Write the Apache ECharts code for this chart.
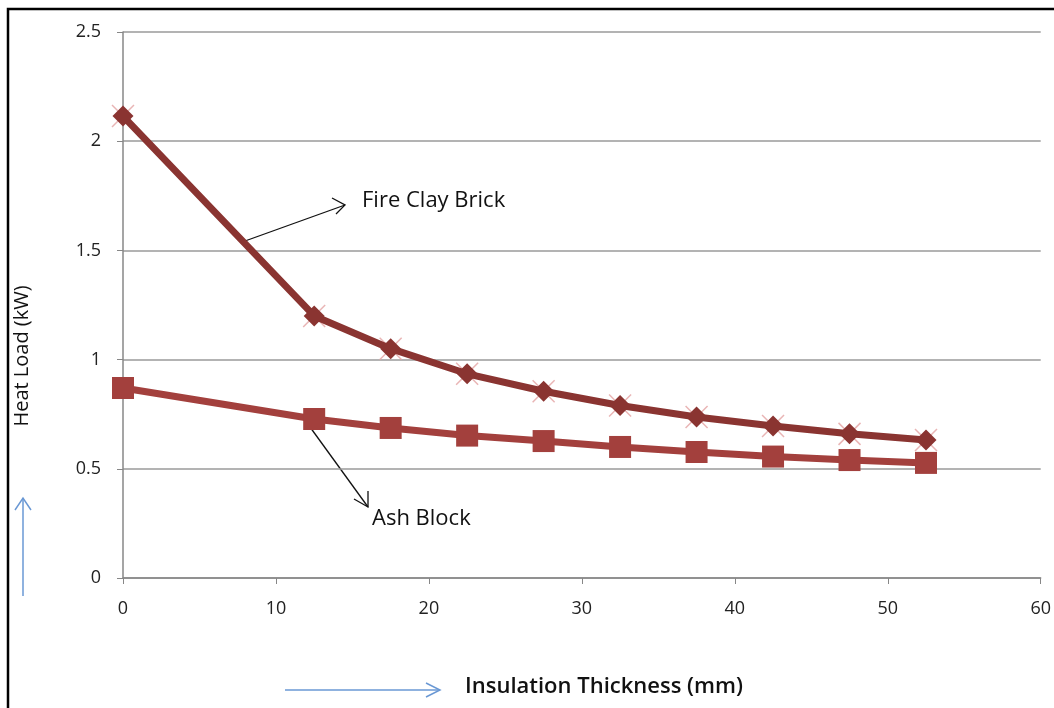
<!DOCTYPE html>
<html>
<head>
<meta charset="utf-8">
<script src="https://cdn.jsdelivr.net/npm/echarts@6/dist/echarts.min.js"></script>
<style>
  html, body { margin: 0; padding: 0; background: #fff; }
  #chart { width: 1054px; height: 708px; }
</style>
</head>
<body>
<div id="chart"></div>
<script>
  // insulation thickness (mm)
  var thickness = [0, 12.5, 17.5, 22.5, 27.5, 32.5, 37.5, 42.5, 47.5, 52.5];
  // heat load (kW)
  var fireClayBrick = [2.115, 1.20, 1.05, 0.935, 0.855, 0.79, 0.737, 0.696, 0.66, 0.632];
  var ashBlock = [0.87, 0.728, 0.687, 0.652, 0.627, 0.60, 0.577, 0.556, 0.54, 0.527];

  function pairs(xs, ys) {
    return xs.map(function (x, i) { return [x, ys[i]]; });
  }

  var font = '"Open Sans", sans-serif';
  var myChart = echarts.init(document.getElementById('chart'));

  myChart.setOption({
    animation: false,
    grid: { left: 123, top: 32, right: 13, bottom: 130 },
    xAxis: {
      type: 'value',
      min: 0, max: 60, interval: 10,
      axisLine: { show: true, lineStyle: { color: '#878787', width: 1.5 } },
      axisTick: { show: true, length: 6, lineStyle: { color: '#878787' } },
      axisLabel: { fontFamily: font, fontSize: 18, color: '#222', margin: 22 },
      splitLine: { show: false }
    },
    yAxis: {
      type: 'value',
      min: 0, max: 2.5, interval: 0.5,
      axisLine: { show: true, lineStyle: { color: '#878787', width: 1.5 } },
      axisTick: { show: true, length: 6, lineStyle: { color: '#878787' } },
      axisLabel: { fontFamily: font, fontSize: 18, color: '#222', margin: 22 },
      splitLine: { show: true, lineStyle: { color: '#9a9a9a', width: 1.5 } }
    },
    series: [
      {
        // pink cross behind the diamonds
        name: 'Fire Clay Brick x',
        type: 'scatter',
        data: pairs(thickness, fireClayBrick),
        symbol: 'path://M0,0L10,10M10,0L0,10',
        symbolSize: 22,
        z: 1,
        itemStyle: { color: 'rgba(0,0,0,0)', borderColor: '#e3a3a3', borderWidth: 1.5 },
        silent: true
      },
      {
        name: 'Fire Clay Brick',
        type: 'line',
        data: pairs(thickness, fireClayBrick),
        symbol: 'diamond',
        symbolSize: 21,
        z: 3,
        lineStyle: { color: '#8a3431', width: 7 },
        itemStyle: { color: '#8a3431' }
      },
      {
        name: 'Ash Block',
        type: 'line',
        data: pairs(thickness, ashBlock),
        symbol: 'rect',
        symbolSize: 22,
        z: 2,
        lineStyle: { color: '#a3403d', width: 7 },
        itemStyle: { color: '#a3403d' }
      }
    ],
    graphic: [
      // outer frame
      { type: 'rect', shape: { x: 8, y: 9, width: 1060, height: 720 },
        style: { fill: 'none', stroke: '#000', lineWidth: 2.5 }, silent: true },
      // axis titles
      { type: 'text', x: 22, y: 356, rotation: Math.PI / 2,
        style: { text: 'Heat Load (kW)', font: '20px ' + font, fill: '#111',
                 align: 'center', verticalAlign: 'middle' } },
      { type: 'text', x: 465, y: 687,
        style: { text: 'Insulation Thickness (mm)', font: '600 22px ' + font, fill: '#111',
                 align: 'left', verticalAlign: 'middle' } },
      // series annotations
      { type: 'text', x: 362, y: 201,
        style: { text: 'Fire Clay Brick', font: '22px ' + font, fill: '#111', verticalAlign: 'middle' } },
      { type: 'line', shape: { x1: 245, y1: 241, x2: 345, y2: 205 },
        style: { stroke: '#111', lineWidth: 1.3 } },
      { type: 'polyline', shape: { points: [[332, 198], [345, 205], [336, 214]] },
        style: { stroke: '#111', lineWidth: 1.3, fill: 'none' } },
      { type: 'text', x: 372, y: 519,
        style: { text: 'Ash Block', font: '22px ' + font, fill: '#111', verticalAlign: 'middle' } },
      { type: 'line', shape: { x1: 310, y1: 427, x2: 368, y2: 507 },
        style: { stroke: '#111', lineWidth: 1.3 } },
      { type: 'polyline', shape: { points: [[354, 499], [368, 507], [368, 491]] },
        style: { stroke: '#111', lineWidth: 1.3, fill: 'none' } },
      // blue direction arrows
      { type: 'line', shape: { x1: 23, y1: 596, x2: 23, y2: 498 },
        style: { stroke: '#6a98d4', lineWidth: 1.5 } },
      { type: 'polyline', shape: { points: [[15, 510], [23, 498], [31, 510]] },
        style: { stroke: '#6a98d4', lineWidth: 1.5, fill: 'none' } },
      { type: 'line', shape: { x1: 285, y1: 690, x2: 440, y2: 690 },
        style: { stroke: '#6a98d4', lineWidth: 1.5 } },
      { type: 'polyline', shape: { points: [[426, 683], [440, 690], [426, 697]] },
        style: { stroke: '#6a98d4', lineWidth: 1.5, fill: 'none' } }
    ]
  });

  window.addEventListener('resize', function () { myChart.resize(); });
</script>
</body>
</html>
